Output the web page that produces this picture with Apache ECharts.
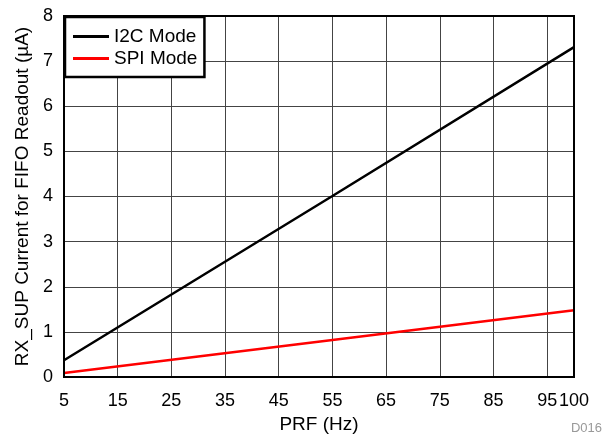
<!DOCTYPE html>
<html>
<head>
<meta charset="utf-8">
<script src="https://cdn.jsdelivr.net/npm/echarts@6/dist/echarts.min.js"></script>
<style>html,body{margin:0;padding:0;background:#fff}#c{width:610px;height:434px}</style>
</head>
<body>
<div id="c"></div>
<script>
var prf = [5, 55, 100];
var i2cMode = [0.37, 4.01, 7.31];
var spiMode = [0.09, 0.82, 1.48];
var xTicks = [5, 15, 25, 35, 45, 55, 65, 75, 85, 95, 100];

var font = 'Liberation Sans, Arial, sans-serif';
var chart = echarts.init(document.getElementById('c'));
chart.setOption({
  animation: false,
  grid: {left: 64, right: 36, top: 16, bottom: 57, show: true, borderColor: '#000', borderWidth: 2, z: 5,
         outerBoundsMode: 'none', containLabel: false},
  legend: {
    orient: 'vertical', left: 65, top: 17, itemWidth: 36, itemHeight: 3, itemGap: 3,
    padding: [10, 7, 9, 8], borderColor: '#000', borderWidth: 2.5, backgroundColor: '#fff',
    textStyle: {fontFamily: font, fontSize: 19, color: '#000'},
    data: [{name: 'I2C Mode', icon: 'rect'}, {name: 'SPI Mode', icon: 'rect'}]
  },
  xAxis: {
    type: 'value', min: 5, max: 100, interval: 10,
    name: 'PRF (Hz)', nameLocation: 'middle', nameGap: 32,
    nameTextStyle: {fontFamily: font, fontSize: 19, color: '#000'},
    axisLine: {show: false}, axisTick: {show: false},
    axisLabel: {fontFamily: font, fontSize: 18, color: '#000', margin: 15},
    splitLine: {show: true, lineStyle: {color: '#444', width: 1}}
  },
  yAxis: {
    type: 'value', min: 0, max: 8, interval: 1,
    name: 'RX_SUP Current for FIFO Readout (\u00b5A)', nameLocation: 'middle', nameGap: 31,
    nameTextStyle: {fontFamily: font, fontSize: 19, color: '#000'},
    axisLine: {show: false}, axisTick: {show: false},
    axisLabel: {fontFamily: font, fontSize: 18, color: '#000', margin: 11},
    splitLine: {show: true, lineStyle: {color: '#444', width: 1}}
  },
  series: [
    {name: 'I2C Mode', type: 'line', showSymbol: false, color: '#000', lineStyle: {width: 2.5, color: '#000'},
     data: prf.map(function (x, i) { return [x, i2cMode[i]]; })},
    {name: 'SPI Mode', type: 'line', showSymbol: false, color: '#ff0000', lineStyle: {width: 2.5, color: '#ff0000'},
     data: prf.map(function (x, i) { return [x, spiMode[i]]; })}
  ],
  graphic: [{type: 'text', right: 8, bottom: -1, style: {text: 'D016', fontFamily: font, fontSize: 13, fill: '#999'}}]
});
</script>
</body>
</html>
